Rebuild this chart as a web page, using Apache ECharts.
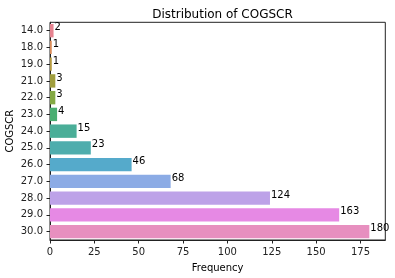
<!DOCTYPE html>
<html>
<head>
<meta charset="utf-8">
<script src="https://cdn.jsdelivr.net/npm/echarts@6/dist/echarts.min.js"></script>
<style>
html,body{margin:0;padding:0;background:#fff;}
#chart{width:395px;height:278px;}
</style>
</head>
<body>
<div id="chart"></div>
<script>
const categories = ['14.0','18.0','19.0','21.0','22.0','23.0','24.0','25.0','26.0','27.0','28.0','29.0','30.0'];
const frequencies = [2,1,1,3,3,4,15,23,46,68,124,163,180];
const barColors = ['#e68390','#da8c5a','#b69a3f','#a09e3e','#84a944','#4aae72','#4aae98','#4eadad','#55aacb','#8babe5','#bda2e8','#e689e4','#e78fbf'];
const xTicks = { min: 0, max: 189, interval: 25 };

const font = 'DejaVu Sans';
const chart = echarts.init(document.getElementById('chart'), null, {renderer: 'canvas'});
chart.setOption({
  animation: false,
  backgroundColor: '#fff',
  title: {
    text: 'Distribution of COGSCR',
    left: 217.5, top: 4, textAlign: 'center',
    textStyle: {fontFamily: font, fontSize: 12, fontWeight: 'normal', color: '#000'}
  },
  grid: {
    left: 50, right: 9.7, top: 22.3, bottom: 38,
    containLabel: false, outerBoundsMode: 'none',
    show: true, borderColor: '#222', borderWidth: 1, backgroundColor: 'transparent'
  },
  xAxis: {
    type: 'value', min: xTicks.min, max: xTicks.max, interval: xTicks.interval,
    name: 'Frequency', nameLocation: 'middle', nameGap: 23, nameMoveOverlap: false,
    nameTextStyle: {fontFamily: font, fontSize: 10, color: '#000'},
    axisLine: {show: true, lineStyle: {color: '#222', width: 1}},
    axisTick: {show: true, length: 3.5, lineStyle: {color: '#222'}},
    axisLabel: {fontFamily: font, fontSize: 10, color: '#222', margin: 7, showMaxLabel: false},
    splitLine: {show: false}
  },
  yAxis: {
    type: 'category', data: categories, inverse: true,
    name: 'COGSCR', nameLocation: 'middle', nameGap: 35, nameMoveOverlap: false,
    nameTextStyle: {fontFamily: font, fontSize: 10, color: '#000'},
    axisLine: {show: true, lineStyle: {color: '#222', width: 1}},
    axisTick: {show: true, alignWithLabel: true, length: 3.5, lineStyle: {color: '#222'}},
    axisLabel: {fontFamily: font, fontSize: 10, color: '#222', margin: 7}
  },
  series: [{
    type: 'bar',
    data: frequencies.map((v, i) => ({value: v, itemStyle: {color: barColors[i]}})),
    barCategoryGap: '20%',
    label: {
      show: true, position: 'right', distance: 1, offset: [0, -3],
      fontFamily: font, fontSize: 10, color: '#000'
    }
  }]
});
</script>
</body>
</html>
